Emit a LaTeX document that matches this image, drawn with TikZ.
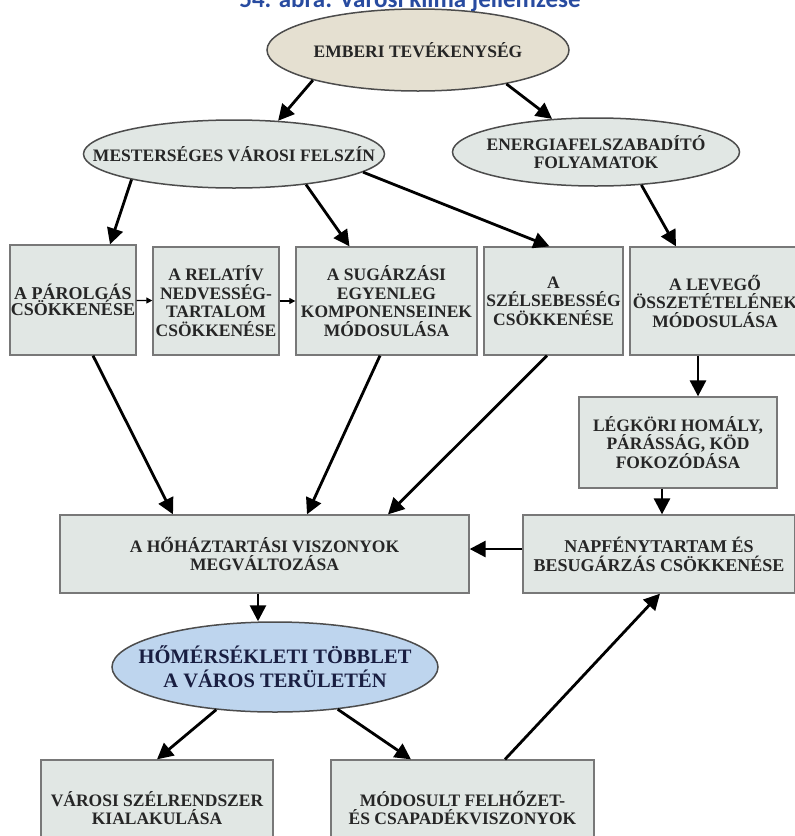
\documentclass[tikz,border=0pt]{standalone}
\usepackage{fontspec}
\setmainfont{Liberation Serif}
\newfontfamily\titlefont{Carlito}
\usetikzlibrary{arrows.meta,shapes.geometric}

\definecolor{boxfill}{RGB}{225,231,228}
\definecolor{beige}{RGB}{229,224,209}
\definecolor{skyblue}{RGB}{190,213,238}
\definecolor{titleblue}{RGB}{40,75,160}
\definecolor{edge}{RGB}{120,120,120}
\definecolor{deepnavy}{RGB}{25,30,65}

\begin{document}
\begin{tikzpicture}[x=1pt, y=-1pt,
    txt/.style={font=\bfseries\fontsize{17.5}{18.5}\selectfont, text=black!85, align=center},
    box/.style={txt, draw=edge, line width=1.3pt, fill=boxfill, inner sep=0pt},
    ell/.style={txt, ellipse, draw=black!70, line width=1.5pt, fill=boxfill,
                inner xsep=-150pt, inner ysep=-30pt},
    arr/.style={line width=2.8pt, -{Triangle[length=16pt, width=16pt]}},
    sarr/.style={line width=1.2pt, -{Triangle[length=6pt, width=6pt]}}]

  \useasboundingbox (0,0) rectangle (795,836);
  \clip (0,0) rectangle (795,836);
  \fill[white] (0,0) rectangle (795,836);

  % cim, felul levagva
  \node[font=\titlefont\bfseries\fontsize{25}{25}\selectfont, text=titleblue, anchor=base]
    (cim) at (410,7) {54. ábra: Városi klíma jellemzése};

  % ellipszisek
  \node[ell, fill=beige, minimum width=302, minimum height=82] (emb) at (418,50) {EMBERI TEVÉKENYSÉG};
  \node[ell, minimum width=301, minimum height=68] (mes) at (234,154) {MESTERSÉGES VÁROSI FELSZÍN};
  \node[ell, minimum width=287, minimum height=68] (ene) at (596,152) {\rule{0pt}{8pt}ENERGIAFELSZABADÍTÓ\\FOLYAMATOK};

  % dobozok sora
  \node[box, minimum width=126, minimum height=110, font=\bfseries\fontsize{18}{15.5}\selectfont]
    (par) at (73,300) {A PÁROLGÁS\\CSÖKKENÉSE};
  \node[box, minimum width=126, minimum height=108] (ned) at (216,301) {A RELATÍV\\NEDVESSÉG-\\TARTALOM\\CSÖKKENÉSE};
  \node[box, minimum width=181, minimum height=108] (sug) at (386.5,301) {A SUGÁRZÁSI\\EGYENLEG\\KOMPONENSEINEK\\MÓDOSULÁSA};
  \node[box, minimum width=139, minimum height=108] (szel) at (553.5,301) {A\\SZÉLSEBESSÉG\\CSÖKKENÉSE};
  \node[box, minimum width=170, minimum height=108] (lev) at (715,301) {A LEVEGŐ\\ÖSSZETÉTELÉNEK\\MÓDOSULÁSA};

  \node[box, minimum width=198, minimum height=91] (hom) at (678,442.5) {LÉGKÖRI HOMÁLY,\\PÁRÁSSÁG, KÖD\\FOKOZÓDÁSA};
  \node[box, minimum width=272, minimum height=78, font=\bfseries\fontsize{18}{19}\selectfont]
    (nap) at (659,554) {NAPFÉNYTARTAM ÉS\\BESUGÁRZÁS CSÖKKENÉSE};
  \node[box, minimum width=409, minimum height=78] (hoh) at (264.5,554) {A HŐHÁZTARTÁSI VISZONYOK\\MEGVÁLTOZÁSA};

  \node[ell, fill=skyblue, minimum width=326, minimum height=90, text=deepnavy,
    font=\bfseries\fontsize{20.5}{24}\selectfont] (tob) at (275,667) {HŐMÉRSÉKLETI TÖBBLET\\A VÁROS TERÜLETÉN};

  \node[box, minimum width=232, minimum height=96] (szr) at (157,808) {VÁROSI SZÉLRENDSZER\\KIALAKULÁSA};
  \node[box, minimum width=263, minimum height=96] (fel) at (462.5,808) {MÓDOSULT FELHŐZET-\\ÉS CSAPADÉKVISZONYOK};

  % nyilak
  \draw[arr] (emb.196) -- (mes.37);
  \draw[arr] (emb.339) -- (ene.143);
  \draw[arr] (mes.194) -- ([xshift=37pt]par.north);
  \draw[arr] (mes.337) -- ([xshift=-37pt]sug.north);
  \draw[arr] (mes.352) -- ([xshift=-4pt]szel.north);
  \draw[arr] (ene.324) -- ([xshift=-39pt]lev.north);
  \draw[sarr] (par) -- (ned);
  \draw[sarr] (ned) -- (sug);
  \draw[arr] ([xshift=-17pt]lev.south) -- ([xshift=20pt]hom.north);
  \draw[arr] ([xshift=-16pt]hom.south) -- ([xshift=3pt]nap.north);
  \draw[arr] ([yshift=5pt]nap.west) -- ([yshift=5pt]hoh.east);
  \draw[arr] ([xshift=20pt]par.south) -- ([xshift=-91.5pt]hoh.north);
  \draw[arr] ([xshift=-6.5pt]sug.south) -- ([xshift=42.5pt]hoh.north);
  \draw[arr] ([xshift=-6.5pt]szel.south) -- ([xshift=123.5pt]hoh.north);
  \draw[arr] ([xshift=-6.5pt]hoh.south) -- ([xshift=-17pt]tob.north);
  \draw[arr] (tob.216) -- (szr.north);
  \draw[arr] (tob.326) -- ([xshift=-51.5pt]fel.north);
  \draw[arr] ([xshift=42.5pt]fel.north) -- ([xshift=1pt]nap.south);
\end{tikzpicture}
\end{document}
